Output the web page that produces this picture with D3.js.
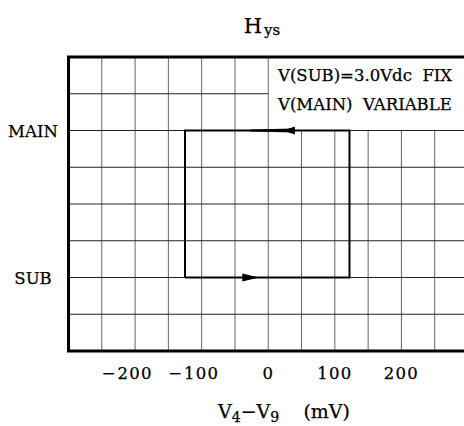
<!DOCTYPE html>
<html><head><meta charset="utf-8">
<script src="https://cdn.jsdelivr.net/npm/d3@7"></script>
<style>body{margin:0;background:#fff}svg{display:block}text{font-family:"DejaVu Serif",serif;fill:#000;stroke:#000;stroke-width:0.25px}</style>
</head><body>
<svg id="c" width="464" height="426"></svg>
<script>
// ---- data ----
const xTicks = [-200, -100, 0, 100, 200];
const xGrid = [-250, -200, -150, -100, -50, 0, 50, 100, 150, 200, 250];
const yLabels = ["SUB", "MAIN"];
const yLevels = [2, 6];
const yGrid = [1, 2, 3, 4, 5, 6, 7];
const loopX = [-125, 122, 122, -125, -125];
const loopState = ["SUB", "SUB", "MAIN", "MAIN", "SUB"];
const arrowBase = [-39, 40];
const arrowTip = [-14, 22];
const arrowTail = [-39, -27];
const arrowState = ["SUB", "MAIN"];
const noteLines = ["V(SUB)=3.0Vdc\u00a0\u00a0FIX", "V(MAIN)\u00a0\u00a0VARIABLE"];

// ---- scales ----
const svg = d3.select("#c");
const x = d3.scaleLinear().domain([-300, 300]).range([68.5, 468]);
const y = d3.scaleLinear().domain([0, 8]).range([351, 57]);
const lvl = s => yLevels[yLabels.indexOf(s)];

// grid
const g = svg.append("g");
xGrid.forEach(v => {
  g.append("line").attr("x1", x(v)).attr("x2", x(v))
    .attr("y1", v > 0 ? y(6) : y(8)).attr("y2", y(0))
    .attr("stroke", "#666").attr("stroke-width", 1);
});
yGrid.forEach(v => {
  g.append("line").attr("x1", x(-300)).attr("x2", v > 6 ? x(0) : x(300))
    .attr("y1", y(v)).attr("y2", y(v))
    .attr("stroke", "#222").attr("stroke-width", 1);
});

// frame
svg.append("path")
  .attr("d", `M${x(300)+2},${y(8)} H${x(-300)} V${y(0)} H${x(300)+2}`)
  .attr("fill", "none").attr("stroke", "#000").attr("stroke-width", 3);

// loop
const line = d3.line().x((d, i) => x(loopX[i])).y((d, i) => y(lvl(loopState[i])));
svg.append("path").datum(loopX).attr("d", line)
  .attr("fill", "none").attr("stroke", "#000").attr("stroke-width", 2);

// arrows (tapered tail + head)
arrowBase.forEach((b, i) => {
  const yy = y(lvl(arrowState[i]));
  const xt0 = x(arrowTail[i]), xb = x(b);
  if (xt0 !== xb) {
    svg.append("path")
      .attr("d", `M${xt0},${yy-1} L${xb},${yy-2} L${xb},${yy+2} L${xt0},${yy+1} Z`)
      .attr("fill", "#000");
  }
  svg.append("path")
    .attr("d", `M${xb},${yy-4} L${x(arrowTip[i])},${yy} L${xb},${yy+4} Z`)
    .attr("fill", "#000");
});

// notes
noteLines.forEach((t, i) => {
  svg.append("text").attr("x", 278).attr("y", 81 + i * 29)
    .attr("font-size", 16.5).text(t);
});

// y labels
yLabels.forEach((t, i) => {
  svg.append("text").attr("x", 33).attr("y", y(yLevels[i]) + 6)
    .attr("text-anchor", "middle").attr("font-size", 16.5).text(t);
});

// x tick labels: digits centred on tick, minus hangs left
xTicks.forEach(v => {
  const digits = svg.append("text").attr("x", x(v)).attr("y", 379)
    .attr("text-anchor", "middle").attr("font-size", 16.5).attr("letter-spacing", 1.2)
    .text(d3.format("d")(Math.abs(v)));
  if (v < 0) {
    const w = digits.node().getComputedTextLength();
    svg.append("text").attr("x", x(v) - w / 2 - 2).attr("y", 379)
      .attr("text-anchor", "end").attr("font-size", 16.5).text("\u2212");
  }
});

// x axis title
const xt = svg.append("text").attr("x", 284).attr("y", 418).attr("text-anchor", "middle").attr("font-size", 19);
xt.append("tspan").text("V");
xt.append("tspan").attr("font-size", 14).attr("dy", 4).text("4");
xt.append("tspan").attr("dy", -4).text("\u2212V");
xt.append("tspan").attr("font-size", 14).attr("dy", 4).text("9");
xt.append("tspan").attr("dy", -4).text("\u00a0\u00a0\u00a0\u00a0(mV)");

// title
const tt = svg.append("text").attr("x", 262).attr("y", 33).attr("text-anchor", "middle").attr("font-size", 21);
tt.append("tspan").text("H");
tt.append("tspan").attr("font-size", 15).attr("dy", 2).attr("dx", 2).text("ys");
</script>
</body></html>
